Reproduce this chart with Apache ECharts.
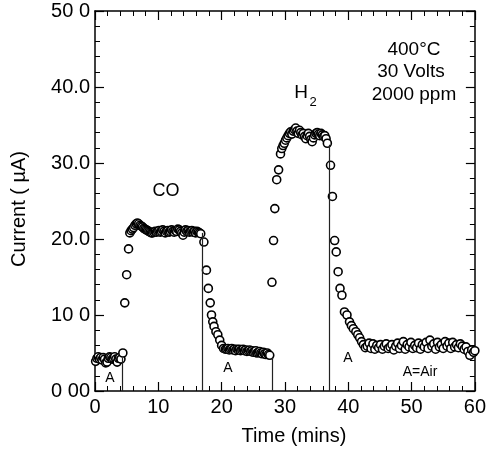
<!DOCTYPE html>
<html>
<head>
<meta charset="utf-8">
<script src="https://cdn.jsdelivr.net/npm/echarts@6/dist/echarts.min.js"></script>
<style>html,body{margin:0;padding:0;background:#fff}#c{width:489px;height:451px}</style>
</head>
<body>
<div id="c"></div>
<script>
// ---- data (time in mins, current in µA) ----
var air1T = [0.1,0.3,0.5,0.7,0.9,1.1,1.3,1.5,1.7,1.9,2.1,2.3,2.5,2.7,2.9,3.1,3.3,3.5,3.7,3.9,4.1];
var air1C = [3.9,4.3,4.5,4.2,4.4,4.1,4.4,4.2,3.7,3.8,4.3,4.5,4.4,4.2,4.3,4.5,4.2,3.8,4.3,4.4,4.2];

var coT = [4.4,4.7,5.0,5.3,5.5,
  5.7,5.9,6.1,6.3,6.5,6.7,6.9,7.1,7.3,7.5,
  7.7,7.9,8.1,8.3,8.5,8.7,8.9,9.1,9.3,9.5,
  9.7,9.9,10.1,10.3,10.5,10.7,10.9,11.1,11.3,11.5,
  11.7,11.9,12.1,12.3,12.5,12.7,12.9,13.1,13.3,13.5,
  13.7,13.9,14.1,14.3,14.5,14.7,14.9,15.1,15.3,15.5,
  15.7,15.9,16.1,16.3,16.5,16.7,17.2];
var coC = [5.0,11.6,15.3,18.7,20.8,
  21.1,21.3,21.5,21.8,22.0,22.1,22.0,21.8,21.7,21.6,
  21.4,21.3,21.2,21.1,21.0,20.9,20.8,20.8,20.9,21.0,
  20.9,21.0,21.1,20.9,21.0,21.2,21.0,20.8,21.0,21.1,
  20.9,21.0,21.2,21.0,20.9,21.1,21.0,21.3,21.2,21.0,
  20.8,20.5,20.9,21.2,21.0,21.1,20.9,21.0,21.1,20.9,
  21.0,20.8,21.0,20.9,20.8,20.7,19.6];

var air2T = [17.6,17.9,18.2,18.4,18.6,18.8,19.1,19.4,19.7,20.0,20.3,20.6,
  20.8,21.0,21.2,21.4,21.6,21.8,22.0,22.2,22.4,22.6,
  22.8,23.0,23.2,23.4,23.6,23.8,24.0,24.2,24.4,24.6,
  24.8,25.0,25.2,25.4,25.6,25.8,26.0,26.2,26.4,26.6,
  26.8,27.0,27.2,27.4,27.6];
var air2C = [15.9,13.5,11.6,10.0,9.1,8.5,7.8,7.4,6.7,6.0,5.6,5.5,
  5.5,5.6,5.4,5.5,5.6,5.4,5.5,5.3,5.5,5.4,
  5.5,5.3,5.4,5.5,5.3,5.4,5.2,5.3,5.4,5.2,
  5.3,5.1,5.2,5.3,5.0,5.1,5.2,5.0,4.9,5.1,
  4.9,4.8,5.0,4.8,4.7];

var h2T = [27.95,28.2,28.4,28.7,29.0,29.3,29.5,29.7,
  29.9,30.1,30.3,30.5,30.7,30.9,31.1,31.3,31.5,31.7,
  31.9,32.1,32.3,32.5,32.7,32.9,33.1,33.3,33.5,33.7,
  33.9,34.1,34.3,34.5,34.7,34.9,35.1,35.3,35.5,35.7,
  35.9,36.1,36.3,36.5,36.7];
var h2C = [14.3,19.8,24.0,27.8,29.1,31.2,31.9,32.3,
  32.6,33.0,33.3,33.6,33.9,34.1,33.8,34.2,34.4,34.6,
  34.2,33.9,34.3,34.0,33.7,33.9,33.5,33.2,33.6,33.9,
  33.5,33.1,32.8,33.3,33.7,33.9,34.0,33.8,33.6,33.9,
  33.7,33.5,33.6,33.2,32.6];

var air3T = [37.2,37.5,37.85,38.1,38.4,38.7,39.0,39.4,39.8,40.2,40.5,40.8,41.2,41.5,41.8,42.1,42.4,42.7,
  43.0,43.3,43.6,43.9,44.2,44.5,44.8,45.1,45.4,45.7,
  46.0,46.3,46.6,46.9,47.2,47.5,47.8,48.1,48.4,48.7,
  49.0,49.3,49.6,49.9,50.2,50.5,50.8,51.1,51.4,51.7,
  52.0,52.3,52.6,52.9,53.2,53.5,53.8,54.1,54.4,54.7,
  55.0,55.3,55.6,55.9,56.2,56.5,56.8,57.1,57.4,57.7,
  58.0,58.3,58.6,58.9,59.2,59.5,59.8,60.0];
var air3C = [29.7,25.6,19.8,18.3,15.7,13.5,12.6,10.4,10.0,9.1,8.6,8.2,7.8,7.4,7.0,6.5,6.1,5.7,
  5.9,6.3,5.6,6.2,5.5,6.0,5.7,6.1,5.5,5.9,
  6.2,5.6,5.8,6.1,5.4,5.9,6.3,5.6,6.0,6.5,
  5.5,6.1,5.8,6.4,5.6,6.0,5.7,6.3,5.5,6.1,
  5.8,6.4,5.6,6.7,5.9,6.2,5.5,6.4,5.8,6.1,
  5.6,6.5,5.9,6.3,5.6,6.4,5.8,6.1,5.7,6.2,
  5.9,5.5,5.8,5.2,4.7,5.4,5.1,5.3];

// gas switching lines: time and height
var switchT = [4.3, 16.9, 27.95, 37.0];
var switchTop = [4.4, 20.8, 4.5, 32.4];

var xTickLabels = ['0','10','20','30','40','50','60'];
var yTickLabels = ['0 00','10 0','20.0','30.0','40.0','50 0'];

// ---- build ----
function zip(t, c){ var o=[]; for (var i=0;i<t.length;i++) o.push([t[i], c[i]]); return o; }
var allPts = [].concat(zip(air1T,air1C), zip(coT,coC), zip(air2T,air2C), zip(h2T,h2C), zip(air3T,air3C));
var mlData = switchT.map(function(t,i){ return [{coord:[t,0]},{coord:[t,switchTop[i]]}]; });

var FONT = '"Liberation Sans", Arial, Helvetica, sans-serif';
var axisCommon = {
  axisLine: {show:true, onZero:false, lineStyle:{color:'#000', width:1.5}},
  axisTick: {show:true, inside:true, length:9, lineStyle:{color:'#000', width:1.2}},
  minorTick: {show:true, splitNumber:5, length:5, lineStyle:{color:'#000', width:1}},
  splitLine: {show:false}, minorSplitLine:{show:false}
};
function ax(extra){ var o = JSON.parse(JSON.stringify(axisCommon)); for (var k in extra) o[k]=extra[k]; return o; }

var chart = echarts.init(document.getElementById('c'), null, {renderer:'canvas'});
chart.setOption({
  animation:false,
  backgroundColor:'#fff',
  grid:{left:95, right:13, top:11, bottom:60, containLabel:false},
  xAxis:[
    ax({type:'value', min:0, max:60, interval:10, position:'bottom',
      axisLabel:{show:true, margin:6, color:'#000', fontSize:20, fontFamily:FONT,
        formatter:function(v){ return xTickLabels[Math.round(v/10)]; }}}),
    ax({type:'value', min:0, max:60, interval:10, position:'top', axisLabel:{show:false}})
  ],
  yAxis:[
    ax({type:'value', min:0, max:50, interval:10, position:'left',
      axisLabel:{show:true, margin:5, color:'#000', fontSize:20, fontFamily:FONT,
        formatter:function(v){ return yTickLabels[Math.round(v/10)]; }}}),
    ax({type:'value', min:0, max:50, interval:10, position:'right', axisLabel:{show:false}})
  ],
  series:[{
    type:'scatter', data:allPts, symbol:'circle', symbolSize:8,
    itemStyle:{color:'#fff', borderColor:'#000', borderWidth:1.6, opacity:1},
    markLine:{silent:true, symbol:['none','none'], label:{show:false},
      lineStyle:{color:'#222', width:1.2, type:'solid'}, data:mlData},
    z:3
  }],
  graphic:[
    {type:'text', x:19, y:209, rotation:Math.PI/2, style:{text:'Current ( µA)', font:'20px '+FONT, fill:'#000', textAlign:'center', textVerticalAlign:'middle'}},
    {type:'text', x:294, y:436, style:{text:'Time (mins)', font:'20px '+FONT, fill:'#000', textAlign:'center', textVerticalAlign:'middle'}},
    {type:'text', x:166, y:191, style:{text:'CO', font:'18px '+FONT, fill:'#000', textAlign:'center', textVerticalAlign:'middle'}},
    {type:'text', x:301, y:93, style:{text:'H', font:'19px '+FONT, fill:'#000', textAlign:'center', textVerticalAlign:'middle'}},
    {type:'text', x:313, y:102, style:{text:'2', font:'13px '+FONT, fill:'#000', textAlign:'center', textVerticalAlign:'middle'}},
    {type:'text', x:414, y:50, style:{text:'400°C', font:'19px '+FONT, fill:'#000', textAlign:'center', textVerticalAlign:'middle'}},
    {type:'text', x:411, y:72, style:{text:'30 Volts', font:'19px '+FONT, fill:'#000', textAlign:'center', textVerticalAlign:'middle'}},
    {type:'text', x:414, y:95, style:{text:'2000 ppm', font:'19px '+FONT, fill:'#000', textAlign:'center', textVerticalAlign:'middle'}},
    {type:'text', x:110, y:378, style:{text:'A', font:'14px '+FONT, fill:'#000', textAlign:'center', textVerticalAlign:'middle'}},
    {type:'text', x:228, y:368, style:{text:'A', font:'14px '+FONT, fill:'#000', textAlign:'center', textVerticalAlign:'middle'}},
    {type:'text', x:348, y:358, style:{text:'A', font:'14px '+FONT, fill:'#000', textAlign:'center', textVerticalAlign:'middle'}},
    {type:'text', x:420, y:372, style:{text:'A=Air', font:'14px '+FONT, fill:'#000', textAlign:'center', textVerticalAlign:'middle'}}
  ]
});
</script>
</body>
</html>
